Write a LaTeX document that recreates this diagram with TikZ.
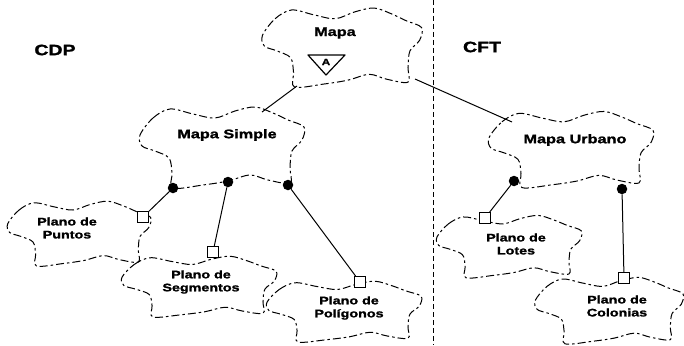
\documentclass[tikz,border=0pt]{standalone}
\usepackage{fontspec}
\newfontfamily\etiq{Liberation Sans}[FakeStretch=1.3, BoldFeatures={FakeBold=1.5}]
\tikzset{
  nube/.style={line width=1pt, dash pattern=on 8pt off 3pt on 2.5pt off 3pt},
  pics/clase/.style={code={
    \draw[nube] plot[smooth cycle, tension=0.55] coordinates {
      (-83,-13) (-70,-30) (-53,-39) (-30,-34) (-8,-30) (12,-37) (32,-41)
      (50,-35) (65,-28) (81,-21) (79,-8) (69,3) (67,20) (67,35) (45,32)
      (27,27) (5,33) (-20,37) (-50,40) (-51,25) (-54,10) (-68,3) (-81,-2)};
  }},
  nombre/.style={font=\etiq\bfseries\fontsize{12.5}{14}\selectfont, align=center, inner sep=1pt},
  plano/.style={font=\etiq\bfseries\fontsize{11}{13}\selectfont, align=center, inner sep=1pt},
  grupo/.style={font=\etiq\bfseries\fontsize{15}{17}\selectfont},
  tiene/.style={circle, fill=black, inner sep=0pt, minimum size=10.5pt},
  usa/.style={draw, fill=white, inner sep=0pt, minimum size=11pt, line width=0.9pt},
  enlace/.style={line width=1pt}
}
\begin{document}
\begin{tikzpicture}[x=1pt, y=-1pt]
  \useasboundingbox (0,0) rectangle (684,345);

  % separador entre los dos paquetes
  \draw[line width=1pt, dash pattern=on 5pt off 3pt] (433,0) -- (433,345);
  \node[grupo] (cdp) at (55,50) {CDP};
  \node[grupo] (cft) at (482,47) {CFT};

  % clases
  \pic[xscale=0.97, yscale=0.975] at (343,48) {clase};
  \pic at (223,148) {clase};
  \pic[yscale=0.94] at (572,150) {clase};
  \pic[xscale=0.87, yscale=0.8] at (80,234) {clase};
  \pic[xscale=0.94, yscale=0.75] at (200,287) {clase};
  \pic[xscale=0.94, yscale=0.75] at (345,312) {clase};
  \pic[xscale=0.88, yscale=0.77] at (510,247) {clase};
  \pic[xscale=0.9, yscale=0.82] at (610,311) {clase};

  \node[nombre] (mapa) at (335,33) {Mapa};
  \node[nombre] (simple) at (227,135) {Mapa Simple};
  \node[nombre] (urbano) at (575,140) {Mapa Urbano};
  \node[plano] (puntos) at (67,228) {Plano de\\Puntos};
  \node[plano] (segmentos) at (201,282) {Plano de\\Segmentos};
  \node[plano] (poligonos) at (349,308) {Plano de\\Polígonos};
  \node[plano] (lotes) at (516,244) {Plano de\\Lotes};
  \node[plano] (colonias) at (617,306) {Plano de\\Colonias};

  % adorno de clase abstracta
  \draw[line width=1.2pt, line join=round] (308,55) -- (345,55) -- (326,75) -- cycle;
  \node[font=\etiq\bfseries\fontsize{9}{9}\selectfont, inner sep=0pt] (abs) at (326,62) {A};

  % herencia
  \coordinate (m1) at (297,86);
  \coordinate (m2) at (415,79);
  \coordinate (ms) at (262,112);
  \coordinate (mu) at (512,122);
  \draw[enlace] (m1) -- (ms);
  \draw[enlace] (m2) -- (mu);

  % contenedores y partes
  \node[tiene] (d1) at (173,188) {};
  \node[tiene] (d2) at (228,182) {};
  \node[tiene] (d3) at (288,185) {};
  \node[tiene] (d4) at (514,181) {};
  \node[tiene] (d5) at (622,189) {};
  \node[usa] (s1) at (143,217) {};
  \node[usa] (s2) at (213,252) {};
  \node[usa] (s3) at (360,282) {};
  \node[usa] (s4) at (485,218) {};
  \node[usa] (s5) at (624,278) {};
  \draw[enlace] (d1) -- (s1);
  \draw[enlace] (d2) -- (s2);
  \draw[enlace] (d3) -- (s3);
  \draw[enlace] (d4) -- (s4);
  \draw[enlace] (d5) -- (s5);
\end{tikzpicture}
\end{document}
